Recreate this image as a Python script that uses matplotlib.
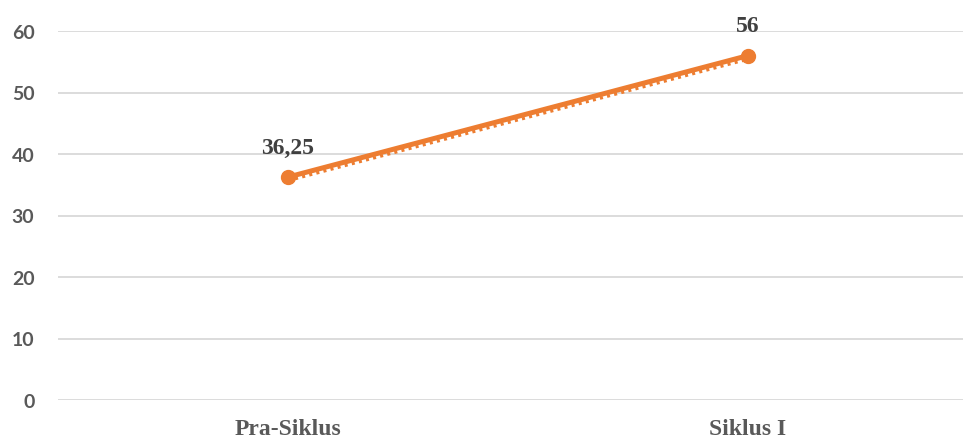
import matplotlib
matplotlib.use("Agg")
import matplotlib.pyplot as plt
import matplotlib.transforms as mtransforms

# data
categories = ["Pra-Siklus", "Siklus I"]
values = [36.25, 56]
value_labels = ["36,25", "56"]
yticks = [0, 10, 20, 30, 40, 50, 60]

orange = "#ED7D31"

fig = plt.figure(figsize=(9.63, 4.39), dpi=100)
ax = fig.add_axes([58 / 963, 38 / 439, 920 / 963, 369 / 439])

x = list(range(len(categories)))

# gridlines
for t in yticks:
    ax.axhline(t, color="#D9D9D9", lw=1.3, zorder=0)

# trendline (dotted, slightly below)
offset = mtransforms.offset_copy(ax.transData, fig=fig, x=0, y=-2.6, units="points")
ax.plot(x, values, color=orange, lw=2.2, ls=(0, (1, 1.4)), transform=offset, zorder=2)

# main line
ax.plot(x, values, color=orange, lw=3.6, marker="o", markersize=10,
        solid_capstyle="round", zorder=3)

for xi, v, lab in zip(x, values, value_labels):
    ax.annotate(lab, (xi, v), xytext=(0, 14), textcoords="offset points",
                ha="center", va="bottom", fontsize=17, fontweight="bold",
                family="Liberation Serif", color="#404040")

ax.set_xlim(-0.5, 1.5)
ax.set_ylim(0, 60)
ax.set_yticks(yticks)
ax.set_yticklabels([str(t) for t in yticks], fontsize=14, fontweight="bold",
                   family="Lato", color="#595959")
ax.set_xticks(x)
ax.set_xticklabels(categories, fontsize=17, fontweight="bold",
                   family="Liberation Serif", color="#595959")
ax.tick_params(axis="y", length=0, pad=17)
ax.tick_params(axis="x", length=0, pad=13)
for s in ax.spines.values():
    s.set_visible(False)

fig.savefig("out.png", dpi=100)
